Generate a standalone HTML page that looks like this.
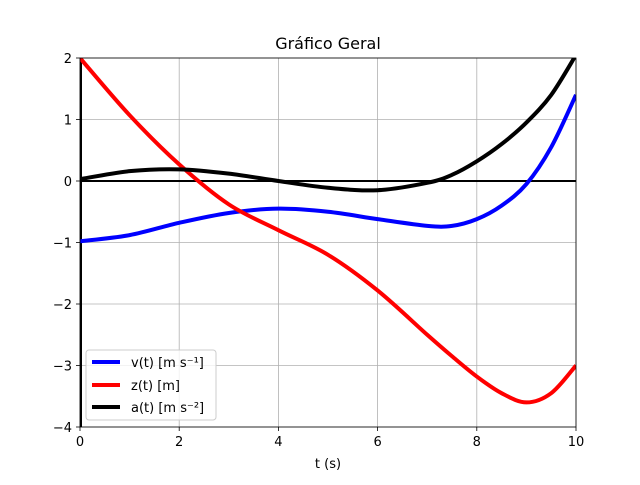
<!DOCTYPE html>
<html><head><meta charset="utf-8"><style>
body{margin:0;background:#fff}
svg{font-family:"DejaVu Sans","Liberation Sans",sans-serif}
</style></head><body>
<svg id="c" width="640" height="480" viewBox="0 0 640 480">
<rect width="640" height="480" fill="#fff"/>
<text x="328" y="49" font-size="16" text-anchor="middle">Gráfico Geral</text>
<g id="grid"></g>
<defs><clipPath id="cp"><rect x="80" y="58" width="496" height="369"/></clipPath></defs>
<g id="series" clip-path="url(#cp)"></g>
<rect x="80" y="58" width="496" height="369" fill="none" stroke="#000" stroke-width="0.8"/>
<g id="ticks" font-size="13"></g>
<text x="328" y="468" font-size="13" text-anchor="middle">t (s)</text>
<g>
<rect x="86" y="350" width="130" height="70" rx="3" fill="#fff" fill-opacity="0.8" stroke="#ccc"/>
<line x1="92" y1="362" x2="120" y2="362" stroke="#0000ff" stroke-width="4"/>
<text x="131" y="367" font-size="13">v(t) [m s⁻¹]</text>
<line x1="92" y1="385" x2="120" y2="385" stroke="#ff0000" stroke-width="4"/>
<text x="131" y="390" font-size="13">z(t) [m]</text>
<line x1="92" y1="407" x2="120" y2="407" stroke="#000" stroke-width="4"/>
<text x="131" y="412" font-size="13">a(t) [m s⁻²]</text>
</g>
</svg>
<script>
const tVals=[0,1,2,3,4,5,6,7,7.5,8,8.5,9,9.5,10];
const vVals=[-0.98,-0.88,-0.68,-0.52,-0.45,-0.5,-0.62,-0.73,-0.73,-0.62,-0.4,-0.05,0.55,1.4];
const zVals=[2,1.07,0.27,-0.38,-0.8,-1.2,-1.78,-2.5,-2.85,-3.18,-3.45,-3.6,-3.45,-3.0];
const aVals=[0.03,0.16,0.19,0.12,0.0,-0.11,-0.15,-0.03,0.1,0.32,0.6,0.95,1.4,2.05];
const xTicks=[0,2,4,6,8,10];
const yTicks=[2,1,0,-1,-2,-3,-4];
const X=t=>80+t*49.6, Y=v=>58+(2-v)*61.5;
const NS="http://www.w3.org/2000/svg";
function mk(tag,attrs,parent){const e=document.createElementNS(NS,tag);for(const k in attrs)e.setAttribute(k,attrs[k]);parent.appendChild(e);return e;}
const grid=document.getElementById('grid'),ticks=document.getElementById('ticks'),ser=document.getElementById('series');
xTicks.forEach(t=>{
 const g=mk('line',{x1:X(t),x2:X(t),y1:58,y2:427,stroke:'#b0b0b0','stroke-width':0.8},grid);
 
 
 mk('line',{x1:X(t),x2:X(t),y1:427,y2:431,stroke:'#000','stroke-width':0.8},ticks);
 const tx=mk('text',{x:X(t),y:446,'text-anchor':'middle'},ticks);tx.textContent=t;
 
 
});
yTicks.forEach(v=>{
 const g=mk('line',{x1:80,x2:576,y1:Y(v),y2:Y(v),stroke:'#b0b0b0','stroke-width':0.8},grid);
 
 
 mk('line',{x1:76,x2:80,y1:Y(v),y2:Y(v),stroke:'#000','stroke-width':0.8},ticks);
 const tx=mk('text',{x:72,y:Y(v)+5,'text-anchor':'end'},ticks);tx.textContent=(v<0?'−'+(-v):v);
 
 
});
const h=mk('line',{x1:80,x2:576,y1:Y(0),y2:Y(0),stroke:'#000','stroke-width':2},ser);


const vl=mk('line',{x1:X(0),x2:X(0),y1:58,y2:427,stroke:'#000','stroke-width':4},ser);


function path(ys){
 const p=tVals.map((t,i)=>[X(t),Y(ys[i])]);
 let d='M'+p[0][0]+','+p[0][1];
 for(let i=0;i<p.length-1;i++){
  const p0=p[i-1]||p[i],p1=p[i],p2=p[i+1],p3=p[i+2]||p2;
  const c1=[p1[0]+(p2[0]-p0[0])/6,p1[1]+(p2[1]-p0[1])/6];
  const c2=[p2[0]-(p3[0]-p1[0])/6,p2[1]-(p3[1]-p1[1])/6];
  d+=`C${c1[0]},${c1[1]} ${c2[0]},${c2[1]} ${p2[0]},${p2[1]}`;
 }
 return d;
}
[[vVals,'#0000ff','v-series'],[zVals,'#ff0000','z-series'],[aVals,'#000000','a-series']].forEach(s=>{
 const e=mk('path',{d:path(s[0]),fill:'none',stroke:s[1],'stroke-width':4,'stroke-linejoin':'round'},ser);
 
 
});
</script>
</body></html>
